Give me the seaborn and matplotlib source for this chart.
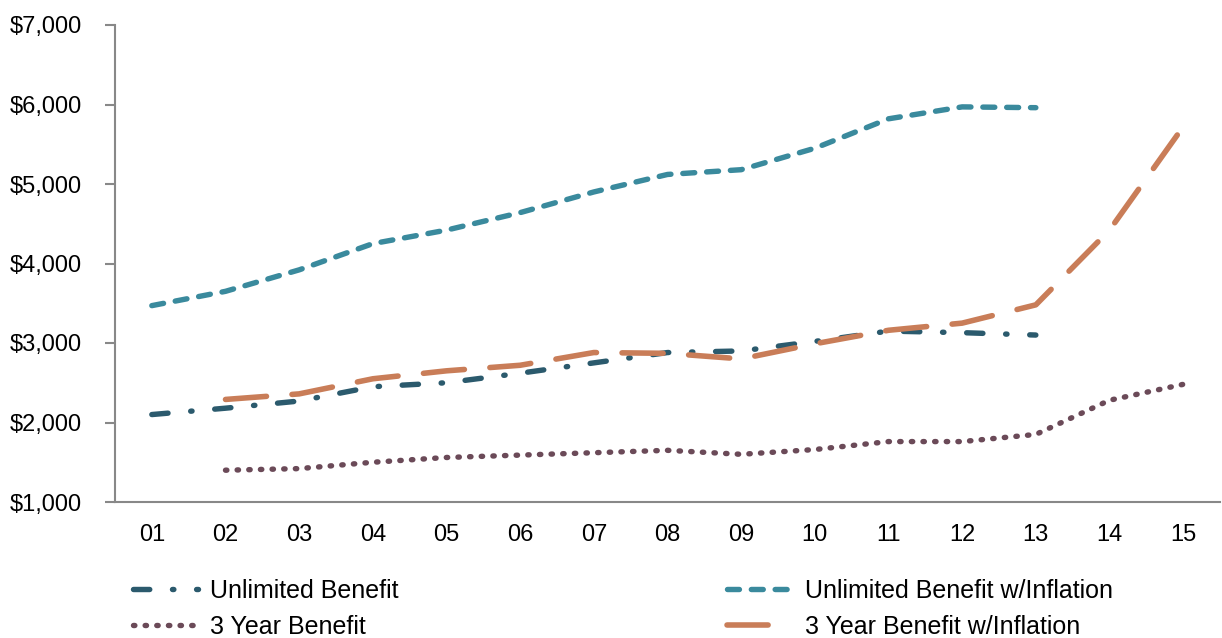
import numpy as np
import pandas as pd
import matplotlib
matplotlib.use("Agg")
import matplotlib.pyplot as plt
import seaborn as sns

# ---- data ----
years = ["01", "02", "03", "04", "05", "06", "07", "08", "09", "10", "11", "12", "13", "14", "15"]
unlimited = [2100, 2180, 2270, 2450, 2500, 2620, 2750, 2880, 2900, 3020, 3150, 3130, 3100, np.nan, np.nan]
unlimited_infl = [3470, 3650, 3920, 4250, 4420, 4640, 4900, 5120, 5180, 5450, 5820, 5970, 5960, np.nan, np.nan]
three_year = [np.nan, 1400, 1420, 1500, 1560, 1590, 1620, 1650, 1600, 1660, 1760, 1760, 1850, 2280, 2480]
three_year_infl = [np.nan, 2290, 2360, 2550, 2650, 2720, 2880, 2870, 2800, 2990, 3160, 3250, 3480, 4420, 5720]

series_names = ["Unlimited Benefit", "3 Year Benefit",
                "Unlimited Benefit w/Inflation", "3 Year Benefit w/Inflation"]
series_values = [unlimited, three_year, unlimited_infl, three_year_infl]
colors = ["#2B5A6D", "#6B4A58", "#3A8A9D", "#C97D58"]
# dash patterns in units of line width (round caps add one width to each mark)
dash_patterns = [(3.0, 4.2, 0.25, 4.2), (0.25, 1.9), (2.2, 2.2), (7.4, 4.6)]
widths = [3.9, 3.9, 3.9, 4.0]

sns.set_theme(style="white")
plt.rcParams["font.family"] = ["Liberation Sans", "DejaVu Sans"]
plt.rcParams["text.color"] = "black"

fig = plt.figure(figsize=(12.22, 6.38), dpi=100)
ax = fig.add_axes([115 / 1222, 1 - 502 / 638, 1105 / 1222, 477 / 638])

x_pos = np.arange(len(years))
for name, vals, col, dash, lw in zip(series_names, series_values, colors, dash_patterns, widths):
    df = pd.DataFrame({"x": x_pos, "y": vals}).dropna()
    sns.lineplot(data=df, x="x", y="y", ax=ax, color=col, linewidth=lw, label=name)
    line = ax.lines[-1]
    line.set_dashes(dash)
    line.set_dash_capstyle("round")
    line.set_solid_capstyle("round")

ax.set_xlim(-0.5, len(years) - 0.5)
ax.set_ylim(1000, 7000)
ax.set_xticks(x_pos)
ax.set_xticklabels(years, fontsize=17, color="black")
ax.set_xticks(np.arange(-0.5, len(years), 1), minor=True)
ax.tick_params(axis="x", which="major", length=0, pad=16)
ax.tick_params(axis="x", which="minor", length=7, width=1.5, color="#888888", direction="out")
ax.set_yticks(range(1000, 7001, 1000))
ax.set_yticklabels([f"${v:,}" for v in range(1000, 7001, 1000)], fontsize=17, color="black")
ax.tick_params(axis="y", length=7, width=1.5, color="#888888", direction="out", left=True, pad=17)
ax.set_xlabel("")
ax.set_ylabel("")
for side in ["top", "right"]:
    ax.spines[side].set_visible(False)
for side in ["left", "bottom"]:
    ax.spines[side].set_color("#888888")
    ax.spines[side].set_linewidth(1.5)

handles, labels = ax.get_legend_handles_labels()
ax.get_legend().remove()
leg = fig.legend(handles, labels, loc="upper left", bbox_to_anchor=(110 / 1222, 1 - 556 / 638),
                 ncol=2, frameon=False, fontsize=18, handlelength=2.6, handletextpad=0.5,
                 columnspacing=13.15, labelspacing=0.5)
for txt in leg.get_texts():
    txt.set_color("black")

fig.savefig("out.png", dpi=100)
